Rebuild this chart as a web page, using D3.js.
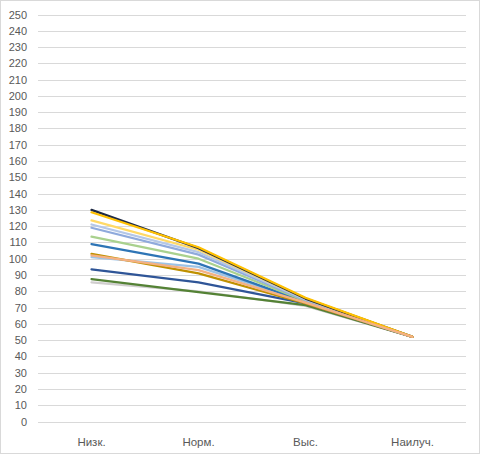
<!DOCTYPE html>
<html>
<head>
<meta charset="utf-8">
<script src="https://cdn.jsdelivr.net/npm/d3@7"></script>
<style>
  body { margin: 0; background: #fff; }
  svg { display: block; }
  text { font-family: "Liberation Sans", Arial, sans-serif; fill: #595959; }
</style>
</head>
<body>
<svg id="chart" width="480" height="454"></svg>
<script>
// categories and series
const categories = ["Низк.", "Норм.", "Выс.", "Наилуч."];
const yTicks = d3.range(0, 251, 10);

const seriesColors = [
    "#d0cece", "#548235", "#2f5597", "#9dc3e6", "#bf9000",
    "#2e75b6", "#a9d18e", "#8faadc", "#b4c7e7", "#ffd966", "#1f2a44", "#ffc000",
    "#f4b183"
];
const seriesValues = [
    [85.5, 80, 71, 52],
    [87.5, 79.5, 71.5, 52],
    [93.5, 85.5, 72.5, 52],
    [101, 95, 73.5, 52],
    [103, 91, 72.5, 52],
    [109, 97, 73.5, 52],
    [113.5, 100, 74, 52],
    [119, 102.5, 74.5, 52],
    [121, 104, 75, 52],
    [123.5, 105.5, 75.5, 52],
    [130, 106.5, 75.5, 52],
    [128.5, 107, 76, 52],
    [102, 93, 73, 52]
];

const svg = d3.select("#chart");

// outer border
svg.append("rect")
    .attr("x", 0.5).attr("y", 0.5)
    .attr("width", 479).attr("height", 453)
    .attr("fill", "#fff")
    .attr("stroke", "#d9d9d9");

const x = d3.scalePoint()
    .domain(categories)
    .range([38, 466])
    .padding(0.5);

const y = d3.scaleLinear()
    .domain([0, 250])
    .range([421.5, 14.5]);

// gridlines
svg.append("g")
    .selectAll("line")
    .data(yTicks)
    .enter()
    .append("line")
    .attr("x1", 38)
    .attr("x2", 466)
    .attr("y1", d => Math.round(y(d)) + 0.5)
    .attr("y2", d => Math.round(y(d)) + 0.5)
    .attr("stroke", "#d9d9d9")
    .attr("stroke-width", 1);

// y labels
svg.append("g")
    .selectAll("text")
    .data(yTicks)
    .enter()
    .append("text")
    .attr("x", 27)
    .attr("y", d => Math.round(y(d)) + 4)
    .attr("text-anchor", "end")
    .attr("font-size", "11px")
    .text(d => d);

// x labels
svg.append("g")
    .selectAll("text")
    .data(categories)
    .enter()
    .append("text")
    .attr("x", d => x(d))
    .attr("y", 446)
    .attr("text-anchor", "middle")
    .attr("font-size", "11.5px")
    .text(d => d);

// lines
const line = d3.line()
    .x((d, i) => x(categories[i]))
    .y(d => y(d));

svg.append("g")
    .selectAll("path")
    .data(seriesValues)
    .enter()
    .append("path")
    .attr("d", d => line(d))
    .attr("fill", "none")
    .attr("stroke", (d, i) => seriesColors[i])
    .attr("stroke-width", 2.25)
    .attr("stroke-linejoin", "round")
    .attr("stroke-linecap", "round");
</script>
</body>
</html>
